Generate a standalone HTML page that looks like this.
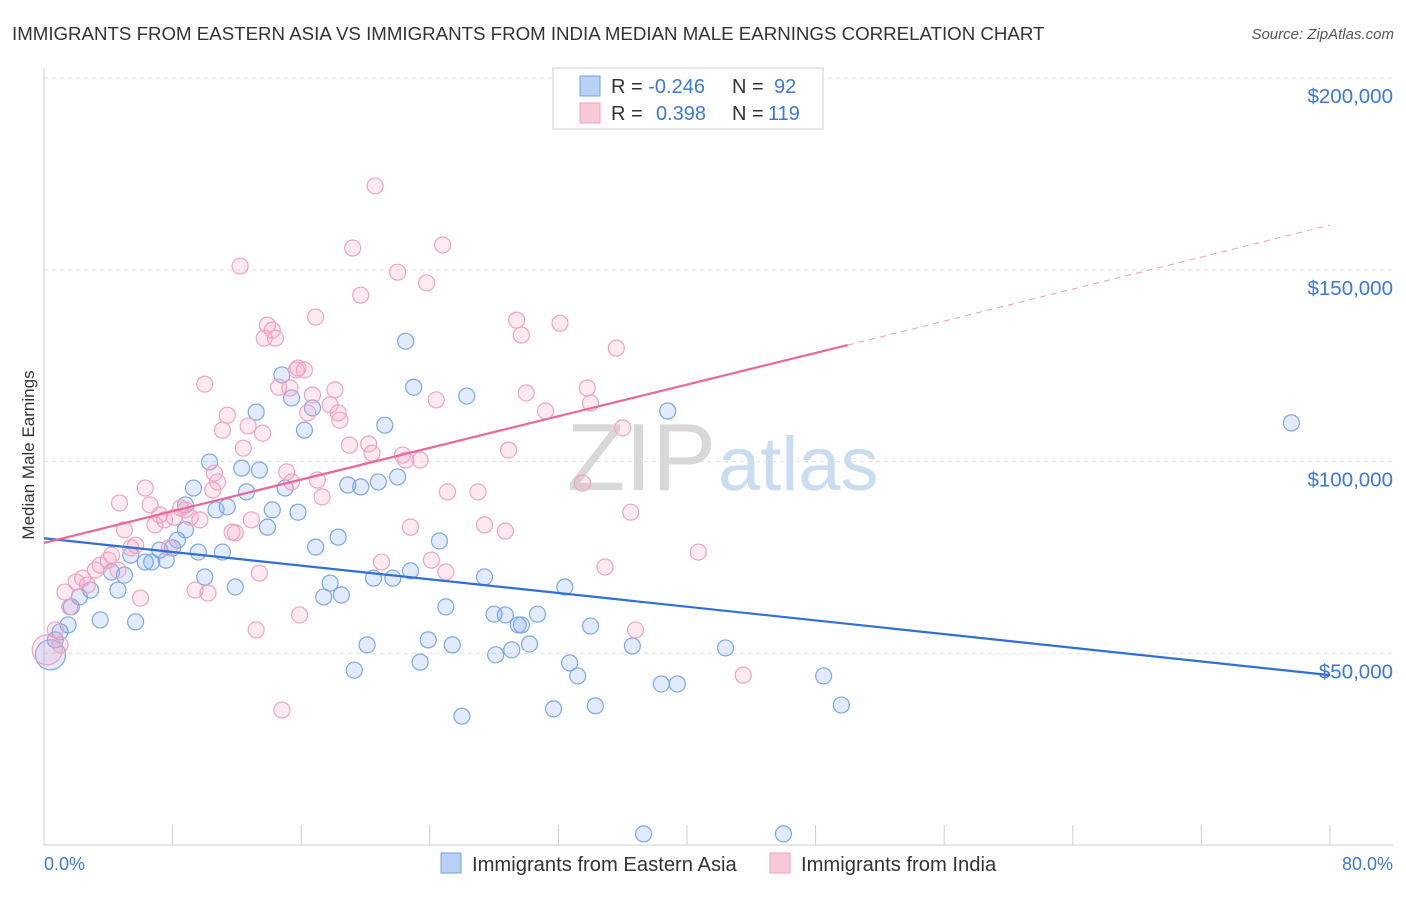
<!DOCTYPE html>
<html><head><meta charset="utf-8">
<style>
body{margin:0;background:#fff;font-family:"Liberation Sans",sans-serif;}
svg text{font-family:"Liberation Sans",sans-serif;}
</style></head>
<body>
<svg id="chart" width="1406" height="892" xmlns="http://www.w3.org/2000/svg">
<text x="12" y="40" font-size="18.7" fill="#333">IMMIGRANTS FROM EASTERN ASIA VS IMMIGRANTS FROM INDIA MEDIAN MALE EARNINGS CORRELATION CHART</text>
<text x="1394" y="39" font-size="15" fill="#555" text-anchor="end" font-style="italic">Source: ZipAtlas.com</text>
<text x="716" y="490" font-size="96" fill="#d8d8d8" text-anchor="end" font-family="Liberation Serif">ZIP</text>
<text x="718" y="490" font-size="76" fill="#c9dcf0">atlas</text>
<g id="grid"></g>
<g id="axes"></g>
<g id="pts"></g>
<g id="trends"></g>
<text x="34" y="455" font-size="17" fill="#333" text-anchor="middle" transform="rotate(-90 34 455)">Median Male Earnings</text>
<text x="44" y="870" font-size="18" fill="#3b78d8">0.0%</text>
<text x="1393" y="870" font-size="18" fill="#3b78d8" text-anchor="end">80.0%</text>
<g>
<rect x="553" y="68" width="270" height="61" fill="#fff" stroke="#ccc"/>
<rect x="580" y="76" width="20" height="20" fill="#b8d0f4" stroke="#6fa0e0"/>
<rect x="580" y="103" width="20" height="20" fill="#f9c8d8" stroke="#f0a0bb"/>
<text x="611" y="93" font-size="20" fill="#333">R = <tspan fill="#3b78d8">-0.246</tspan><tspan x="732">N =</tspan><tspan x="774" fill="#3b78d8">92</tspan></text>
<text x="611" y="120" font-size="20" fill="#333">R = <tspan x="656" fill="#3b78d8">0.398</tspan><tspan x="732">N =</tspan><tspan x="768" fill="#3b78d8">119</tspan></text>
</g>
<g>
<rect x="441" y="853" width="20" height="20" fill="#b8d0f4" stroke="#6fa0e0"/>
<text x="472" y="871" font-size="20.2" fill="#333">Immigrants from Eastern Asia</text>
<rect x="770" y="853" width="20" height="20" fill="#f9c8d8" stroke="#f0a0bb"/>
<text x="801" y="871" font-size="20.2" fill="#333">Immigrants from India</text>
</g>
</svg>
<script>
const blueX=[0.4,0.7,1.0,1.5,1.7,2.2,2.9,3.5,4.2,4.6,5.0,5.4,5.7,6.3,6.7,7.2,7.6,8.0,8.3,8.8,8.8,9.3,9.6,10.0,10.3,10.7,11.1,11.4,11.9,12.3,12.6,13.2,13.4,13.9,14.2,14.8,15.0,15.4,15.8,16.2,16.7,16.9,17.4,17.8,18.3,18.5,18.9,19.3,19.7,20.1,20.5,20.8,21.2,21.7,22.0,22.5,22.8,23.0,23.4,23.9,24.6,25.0,25.4,26.0,26.3,27.4,28.1,28.0,28.7,29.1,29.5,29.7,30.2,30.7,31.7,32.4,32.7,33.2,34.0,34.3,36.6,37.3,38.4,38.8,39.4,42.4,46.0,48.5,49.6,77.6];
const blueY=[49.6,53.5,55.6,57.4,62.1,64.7,66.5,58.7,71.2,66.5,70.4,75.6,58.2,73.8,73.8,76.9,74.3,77.5,79.5,82.2,88.7,93.1,76.4,69.9,99.9,87.4,76.4,88.2,67.3,98.3,92.1,112.9,97.8,82.9,87.4,122.6,93.1,116.6,86.8,108.2,114.0,77.7,64.7,68.3,80.3,65.2,93.9,45.6,93.4,52.2,69.6,94.7,109.5,69.6,96.0,131.4,71.5,119.4,47.7,53.5,79.3,62.1,52.2,33.6,117.1,69.9,49.6,60.2,60.0,50.9,57.4,57.4,52.4,60.2,35.5,67.3,47.5,44.1,57.1,36.3,51.9,2.9,42.0,113.2,42.0,51.4,2.9,44.1,36.5,110.1];
const pinkX=[0.2,0.7,1.0,1.3,1.6,2.0,2.4,2.7,3.2,3.5,4.0,4.2,4.6,4.7,5.0,5.4,5.7,6.0,6.3,6.6,6.9,7.2,7.5,7.8,8.1,8.5,8.8,9.1,9.4,9.7,10.0,10.2,10.5,10.6,10.8,11.1,11.4,11.7,11.9,12.2,12.4,12.7,12.9,13.2,13.4,13.6,13.7,13.9,14.2,14.4,14.6,14.8,15.1,15.3,15.4,15.7,15.8,15.9,16.2,16.4,16.7,16.9,17.0,17.3,17.8,18.1,18.3,18.4,19.0,19.2,19.7,20.2,20.4,20.6,21.0,22.0,22.3,22.5,22.8,23.4,23.8,24.1,24.4,24.8,25.0,25.1,27.0,27.4,28.7,28.9,29.4,29.7,30.0,31.2,32.1,33.5,33.8,34.0,34.9,35.6,36.0,36.5,36.8,40.7,43.5];
const pinkY=[50.9,56.1,52.2,66.0,62.1,68.6,69.6,67.8,71.7,73.0,74.3,75.6,71.7,89.2,82.2,77.5,78.2,64.4,93.1,88.7,83.5,86.1,84.8,77.5,85.5,87.9,87.4,85.5,66.5,84.8,120.2,65.7,92.6,97.0,94.7,108.2,112.1,81.6,81.4,151.0,103.5,109.3,84.8,56.1,70.9,107.4,132.2,135.6,134.3,132.2,119.4,35.2,97.3,119.2,94.7,123.9,124.4,60.0,123.9,112.7,117.4,137.7,95.2,90.8,114.8,118.7,112.7,110.8,104.3,155.7,143.4,104.6,102.2,171.9,73.8,149.4,101.7,100.4,82.9,100.4,146.6,74.3,116.1,156.5,71.2,92.1,92.1,83.5,81.9,103.0,136.9,133.0,117.9,113.2,136.1,94.4,119.2,115.3,72.5,129.6,108.8,86.8,56.1,76.4,44.3];
const blueTrendX=[0,80];
const blueTrendY=[80.0,44.3];
const pinkTrendX=[0,50,80];
const pinkTrendY=[78.8,130.4,161.7];
const yTicks=[50,100,150,200];
const yTickLabels=["$50,000","$100,000","$150,000","$200,000"];
const xTicks=[0,8,16,24,32,40,48,56,64,72,80];

const NS="http://www.w3.org/2000/svg";
const sx=v=>44+v/80*1286;
const sy=v=>845-v*3.834;
function mk(tag,attrs,parent){const e=document.createElementNS(NS,tag);for(const k in attrs)e.setAttribute(k,attrs[k]);parent.appendChild(e);return e;}
const grid=document.getElementById('grid'),axes=document.getElementById('axes'),pts=document.getElementById('pts'),tr=document.getElementById('trends');
yTicks.forEach((t,i)=>{
  const l=mk('line',{x1:44,x2:1393,y1:sy(t),y2:sy(t),stroke:'#ddd','stroke-dasharray':'4,4'},grid);
  
  
  const tx=mk('text',{x:1393,y:sy(t)+25,'font-size':20.5,fill:'#3b78d8','text-anchor':'end'},grid);
  tx.textContent=yTickLabels[i];
  
  
});
let a=mk('line',{x1:44,x2:44,y1:68,y2:845,stroke:'#ccc'},axes);


a=mk('line',{x1:44,x2:1393,y1:845,y2:845,stroke:'#ccc'},axes);


xTicks.forEach(t=>{
  const l=mk('line',{x1:sx(t),x2:sx(t),y1:825,y2:845,stroke:'#ccc'},axes);
  
  
});
function drawPts(X,Y,fill,stroke,name){
  X.forEach((x,i)=>{
    const r=i===0?15:8;
    const c=mk('circle',{cx:sx(x),cy:sy(Y[i]),r:r,fill:fill,stroke:stroke,'stroke-width':1.2},pts);
    
    
  });
}
drawPts(blueX,blueY,'rgba(120,165,235,0.22)','#7aa8e6','point-eastern-asia');
drawPts(pinkX,pinkY,'rgba(245,160,190,0.22)','#f0a3bf','point-india');
let t=mk('line',{x1:sx(blueTrendX[0]),y1:sy(blueTrendY[0]),x2:sx(blueTrendX[1]),y2:sy(blueTrendY[1]),stroke:'#2f6fd6','stroke-width':2.2},tr);


t=mk('line',{x1:sx(pinkTrendX[0]),y1:sy(pinkTrendY[0]),x2:sx(pinkTrendX[1]),y2:sy(pinkTrendY[1]),stroke:'#e8689a','stroke-width':2.2},tr);


t=mk('line',{x1:sx(pinkTrendX[1]),y1:sy(pinkTrendY[1]),x2:sx(pinkTrendX[2]),y2:sy(pinkTrendY[2]),stroke:'#e8a0bb','stroke-width':1,'stroke-dasharray':'6,5'},tr);


</script>
</body></html>
